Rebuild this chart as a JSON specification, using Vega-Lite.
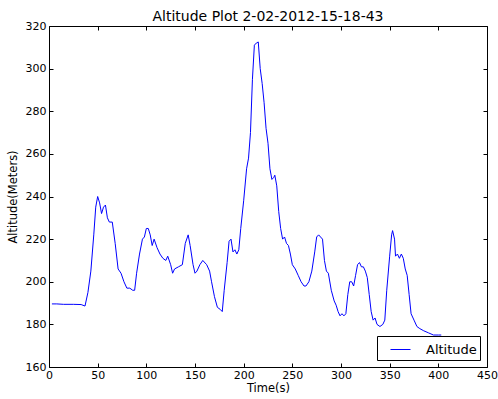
{
  "$schema": "https://vega.github.io/schema/vega-lite/v6.json",
  "autosize": "none",
  "padding": {"left": 49, "top": 26, "right": 11, "bottom": 32},
  "width": 438,
  "height": 341,
  "background": "white",
  "title": {"text": "Altitude Plot 2-02-2012-15-18-43", "font": "DejaVu Sans", "fontSize": 14, "fontWeight": "normal", "color": "black", "offset": -4},
  "config": {
    "view": {"stroke": "black", "strokeWidth": 1},
    "axis": {"labelFont": "DejaVu Sans", "titleFont": "DejaVu Sans", "labelFontSize": 11, "titleFontSize": 11.5, "titleFontWeight": "normal", "labelColor": "black", "titleColor": "black", "grid": false, "domain": false, "tickColor": "black", "tickSize": -4, "labelPadding": 4}
  },
  "data": {"values": [
    {"t":3,"alt":189.6},{"t":8,"alt":189.6},{"t":15,"alt":189.4},{"t":25,"alt":189.4},{"t":33,"alt":189.3},{"t":37,"alt":188.6},
    {"t":40,"alt":195},{"t":43,"alt":205},{"t":46,"alt":222},{"t":48,"alt":235},{"t":50,"alt":240},{"t":52,"alt":237},
    {"t":54,"alt":232},{"t":56,"alt":235},{"t":58,"alt":236},{"t":60,"alt":230},{"t":62,"alt":228},{"t":65,"alt":228},
    {"t":68,"alt":218},{"t":71,"alt":206},{"t":74,"alt":204},{"t":77,"alt":200},{"t":80,"alt":197},{"t":83,"alt":197},
    {"t":86,"alt":196},{"t":88,"alt":196},{"t":90,"alt":204},{"t":93,"alt":213},{"t":96,"alt":220},{"t":98,"alt":221},
    {"t":100,"alt":225},{"t":102,"alt":225},{"t":104,"alt":222},{"t":106,"alt":217},{"t":108,"alt":220},{"t":111,"alt":216},
    {"t":114,"alt":213},{"t":117,"alt":211},{"t":120,"alt":210},{"t":122,"alt":212},{"t":125,"alt":208},{"t":127,"alt":204},
    {"t":129,"alt":206},{"t":133,"alt":207},{"t":137,"alt":208},{"t":140,"alt":218},{"t":143,"alt":222},{"t":145,"alt":217},
    {"t":148,"alt":208},{"t":150,"alt":204},{"t":152,"alt":205},{"t":155,"alt":208},{"t":158,"alt":210},{"t":162,"alt":208},
    {"t":165,"alt":205},{"t":167,"alt":200},{"t":170,"alt":193},{"t":173,"alt":188},{"t":176,"alt":187},{"t":178,"alt":186},
    {"t":180,"alt":196},{"t":183,"alt":209},{"t":185,"alt":219},{"t":187,"alt":220},{"t":189,"alt":214},{"t":191,"alt":215},
    {"t":193,"alt":213},{"t":195,"alt":215},{"t":197,"alt":225},{"t":200,"alt":238},{"t":203,"alt":253},{"t":205,"alt":258},
    {"t":207,"alt":270},{"t":209,"alt":295},{"t":211,"alt":311},{"t":213,"alt":312},{"t":215,"alt":312.5},{"t":217,"alt":300},
    {"t":219,"alt":293},{"t":221,"alt":284},{"t":223,"alt":272},{"t":225,"alt":265},{"t":227,"alt":253},{"t":229,"alt":248},
    {"t":231,"alt":249},{"t":232,"alt":250},{"t":234,"alt":245},{"t":236,"alt":233},{"t":238,"alt":225},{"t":240,"alt":220},
    {"t":242,"alt":221},{"t":244,"alt":218},{"t":246,"alt":217},{"t":248,"alt":213},{"t":250,"alt":208},{"t":253,"alt":206},
    {"t":256,"alt":203},{"t":259,"alt":200},{"t":262,"alt":198},{"t":264,"alt":198},{"t":267,"alt":200},{"t":270,"alt":205},
    {"t":273,"alt":214},{"t":275,"alt":221},{"t":277,"alt":222},{"t":279,"alt":221},{"t":281,"alt":220},{"t":283,"alt":210},
    {"t":285,"alt":205},{"t":287,"alt":204},{"t":290,"alt":196},{"t":293,"alt":191},{"t":295,"alt":189},{"t":297,"alt":186},
    {"t":299,"alt":184},{"t":301,"alt":185},{"t":303,"alt":184},{"t":305,"alt":185},{"t":307,"alt":194},{"t":309,"alt":200},
    {"t":311,"alt":200},{"t":313,"alt":198},{"t":315,"alt":203},{"t":317,"alt":208},{"t":319,"alt":209},{"t":321,"alt":207},
    {"t":323,"alt":207},{"t":325,"alt":205},{"t":327,"alt":202},{"t":329,"alt":194},{"t":331,"alt":186},{"t":333,"alt":182},
    {"t":335,"alt":183},{"t":337,"alt":180},{"t":340,"alt":179},{"t":343,"alt":180},{"t":345,"alt":182},{"t":347,"alt":196},
    {"t":350,"alt":212},{"t":352,"alt":222},{"t":353,"alt":224},{"t":355,"alt":220},{"t":356,"alt":212},{"t":358,"alt":213},
    {"t":360,"alt":211},{"t":362,"alt":213},{"t":364,"alt":211},{"t":366,"alt":206},{"t":368,"alt":203},{"t":370,"alt":194},
    {"t":372,"alt":185},{"t":375,"alt":182},{"t":378,"alt":179},{"t":381,"alt":178},{"t":385,"alt":177},{"t":390,"alt":176},
    {"t":395,"alt":175},{"t":400,"alt":175},{"t":403,"alt":175}
  ]},
  "transform": [{"calculate": "'Altitude'", "as": "series"}],
  "layer": [
    {
      "mark": {"type": "line", "strokeWidth": 1, "interpolate": "linear"},
      "encoding": {
        "x": {"field": "t", "type": "quantitative", "scale": {"domain": [0, 450], "nice": false}, "axis": {"title": "Time(s)", "values": [0,50,100,150,200,250,300,350,400,450], "titlePadding": 2, "labelFlush": false, "labelPadding": 6}},
        "y": {"field": "alt", "type": "quantitative", "scale": {"domain": [160, 320], "nice": false, "zero": false}, "axis": {"title": "Altitude(Meters)", "values": [160,180,200,220,240,260,280,300,320], "titlePadding": 7, "labelPadding": 7}},
        "color": {"field": "series", "type": "nominal", "scale": {"range": ["#0000ff"]}, "legend": {"title": null, "orient": "bottom-right", "symbolType": "stroke", "symbolSize": 400, "symbolStrokeWidth": 1, "labelFont": "DejaVu Sans", "labelFontSize": 13, "labelColor": "black", "strokeColor": "black", "padding": 3, "offset": 7, "fillColor": "white", "labelOffset": 15, "symbolOffset": 10, "cornerRadius": 0}}
      }
    },
    {
      "mark": {"type": "line", "opacity": 0},
      "encoding": {
        "x": {"field": "t", "type": "quantitative", "scale": {"domain": [0, 450], "nice": false}, "axis": {"orient": "top", "title": null, "labels": false, "values": [0,50,100,150,200,250,300,350,400,450]}},
        "y": {"field": "alt", "type": "quantitative", "scale": {"domain": [160, 320], "nice": false, "zero": false}, "axis": {"orient": "right", "title": null, "labels": false, "values": [160,180,200,220,240,260,280,300,320]}}
      }
    }
  ],
  "resolve": {"axis": {"x": "independent", "y": "independent"}}
}
